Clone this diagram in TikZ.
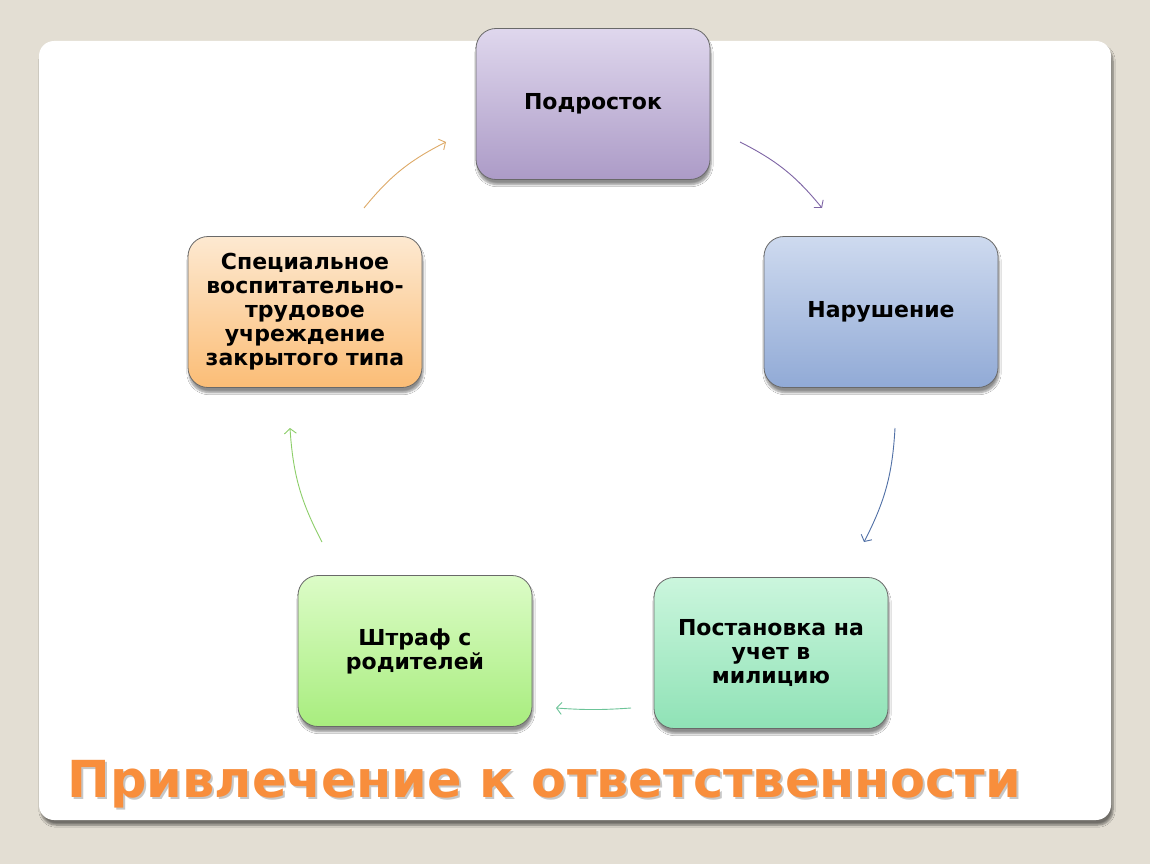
\documentclass[tikz,border=0pt]{standalone}
\usepackage{fontspec}
\setmainfont{DejaVu Sans}
\usetikzlibrary{arrows.meta,shadows.blur}

\definecolor{bg}{RGB}{227,222,211}
\definecolor{boxline}{RGB}{105,105,105}
\definecolor{purpleT}{RGB}{223,215,237}
\definecolor{purpleB}{RGB}{172,155,199}
\definecolor{blueT}{RGB}{206,218,239}
\definecolor{blueB}{RGB}{145,170,214}
\definecolor{tealT}{RGB}{203,246,221}
\definecolor{tealB}{RGB}{143,226,182}
\definecolor{limeT}{RGB}{220,252,199}
\definecolor{limeB}{RGB}{168,237,126}
\definecolor{peachT}{RGB}{253,233,209}
\definecolor{peachB}{RGB}{251,189,118}
\definecolor{headorange}{RGB}{248,142,60}

\tikzset{
  box/.style={draw=boxline, line width=0.8pt, rounded corners=20pt,
    minimum width=234pt, minimum height=151pt, align=center,
    font=\fontsize{22}{24}\selectfont\bfseries,
    blur shadow={shadow xshift=1pt, shadow yshift=-5pt, shadow opacity=45, shadow blur steps=6}},
  link/.style={-{Straight Barb[length=5pt,width=12pt]}, line width=0.9pt},
}

\begin{document}
\begin{tikzpicture}[x=1pt,y=-1pt]
  \useasboundingbox (0,0) rectangle (1150,864);
  \fill[bg] (0,0) rectangle (1150,864);
  \fill[white, rounded corners=15pt,
    blur shadow={shadow xshift=2pt, shadow yshift=-5pt, shadow opacity=50, shadow blur steps=6}]
    (39,41) rectangle (1111,820);

  \foreach \nm/\cx/\cy/\ctop/\cbot/\txt in {
      teen/593/104/purpleT/purpleB/{Подросток},
      offence/881/312/blueT/blueB/{Нарушение},
      police/771/653/tealT/tealB/{Постановка на\\учет в\\милицию},
      fine/415/651/limeT/limeB/{Штраф с\\родителей},
      school/305/312/peachT/peachB/{Специальное\\воспитательно-\\трудовое\\учреждение\\закрытого типа}} {
    \node[box, top color=\ctop, bottom color=\cbot] (\nm) at (\cx,\cy) {\txt};
  }

  % arrows between the boxes, clockwise
  \coordinate (a1s) at (740,142);  \coordinate (a1e) at (822,208);
  \coordinate (a2s) at (895,428);  \coordinate (a2e) at (864,542);
  \coordinate (a3s) at (631,708);  \coordinate (a3e) at (556,708);
  \coordinate (a4s) at (322,542);  \coordinate (a4e) at (290,428);
  \coordinate (a5s) at (364,208);  \coordinate (a5e) at (446,142);
  \draw[link, draw={rgb,255:red,126;green,101;blue,165}] (a1s) to[bend left=12] (a1e);
  \draw[link, draw={rgb,255:red,80;green,112;blue,166}] (a2s) to[bend left=12] (a2e);
  \draw[link, draw={rgb,255:red,108;green,196;blue,152}] (a3s) to[bend left=4] (a3e);
  \draw[link, draw={rgb,255:red,140;green,206;blue,104}] (a4s) to[bend left=12] (a4e);
  \draw[link, draw={rgb,255:red,222;green,170;blue,104}] (a5s) to[bend left=12] (a5e);

  \node[anchor=base west, text=black, opacity=0.22, font=\fontsize{51}{60}\selectfont\bfseries] (headshadow) at (66,799) {Привлечение к ответственности};
  \node[anchor=base west, text=headorange, font=\fontsize{51}{60}\selectfont\bfseries] (heading) at (64,797) {Привлечение к ответственности};
\end{tikzpicture}
\end{document}
